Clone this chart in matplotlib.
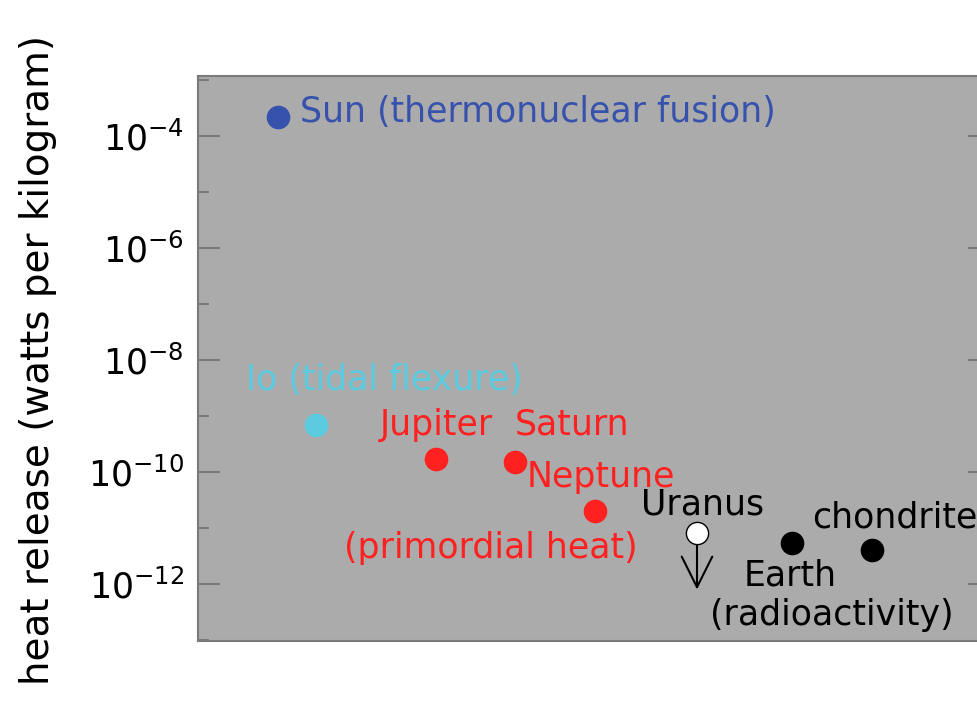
import matplotlib
matplotlib.use("Agg")
import matplotlib.pyplot as plt
from matplotlib.ticker import FixedLocator, NullFormatter

# data (x in arbitrary units, y in W/kg)
names = ["Sun", "Io", "Jupiter", "Saturn", "Neptune", "Uranus", "Earth", "chondrite"]
xpos = [8.0, 11.8, 23.8, 31.7, 39.7, 49.9, 59.4, 67.4]
heat = [10**-3.66, 10**-9.16, 10**-9.77, 10**-9.82, 10**-10.70, 10**-11.09, 10**-11.27, 10**-11.39]
colors = ["#3652ad", "#5ccbe0", "#ff2020", "#ff2020", "#ff2020", "white", "black", "black"]
uranus_limit_end = 10**-12.15

labels = [
    ("Sun (thermonuclear fusion)", 0, (22, 5), "left", "#3652ad"),
    ("Io (tidal flexure)", 1, (68, 45), "center", "#5ccbe0"),
    ("Jupiter", 2, (0, 34), "center", "#ff2020"),
    ("Saturn", 3, (57, 37), "center", "#ff2020"),
    ("Neptune", 4, (6, 34), "center", "#ff2020"),
    ("(primordial heat)", 4, (-104, -37), "center", "#ff2020"),
    ("Uranus", 5, (6, 28), "center", "black"),
    ("Earth", 6, (-2, -32), "center", "black"),
    ("(radioactivity)", 6, (40, -72), "center", "black"),
    ("chondrite", 7, (23, 32), "center", "black"),
]

major_exp = [-4, -6, -8, -10, -12]
minor_exp = [-3, -5, -7, -9, -11, -13]

fig = plt.figure(figsize=(9.78, 7.07), dpi=100)
ax = fig.add_axes([198/978, 1-641/707, (990-198)/978, (641-76)/707])
ax.set_facecolor("#ababab")
ax.set_yscale("log")
ax.set_xlim(0, 79.2)
ax.set_ylim(10**-13.02, 10**-2.93)

spine_c = "#7a7a7a"
for s in ax.spines.values():
    s.set_color(spine_c)
    s.set_linewidth(1.5)

ax.yaxis.set_major_locator(FixedLocator([10.0**e for e in major_exp]))
ax.yaxis.set_minor_locator(FixedLocator([10.0**e for e in minor_exp]))
ax.yaxis.set_minor_formatter(NullFormatter())
ax.set_yticklabels([r"$\mathregular{10^{%d}}$" % e for e in major_exp])
ax.tick_params(axis="y", which="major", direction="in", length=16, width=1.5,
               color=spine_c, labelsize=25, right=True, pad=10)
ax.tick_params(axis="y", which="minor", direction="in", length=8, width=1.5,
               color=spine_c, right=True)
ax.set_xticks([])

ax.set_ylabel("heat release (watts per kilogram)", fontsize=28)
ax.yaxis.set_label_coords(-0.178, 0.497)

for i in range(len(names)):
    ax.plot(xpos[i], heat[i], "o", ms=16, mfc=colors[i],
            mec="black" if colors[i] in ("white", "black") else colors[i],
            mew=1.0, zorder=3)

# Uranus upper-limit arrow
ax.annotate("", xy=(xpos[5], uranus_limit_end), xytext=(xpos[5], heat[5]),
            arrowprops=dict(arrowstyle="->,head_length=2.2,head_width=1.1",
                            color="black", lw=1.5), zorder=2)

for text, idx, off, ha, c in labels:
    ax.annotate(text, xy=(xpos[idx], heat[idx]), xytext=off,
                textcoords="offset pixels", ha=ha, va="center",
                color=c, fontsize=25)

fig.savefig("out.png", dpi=100)
